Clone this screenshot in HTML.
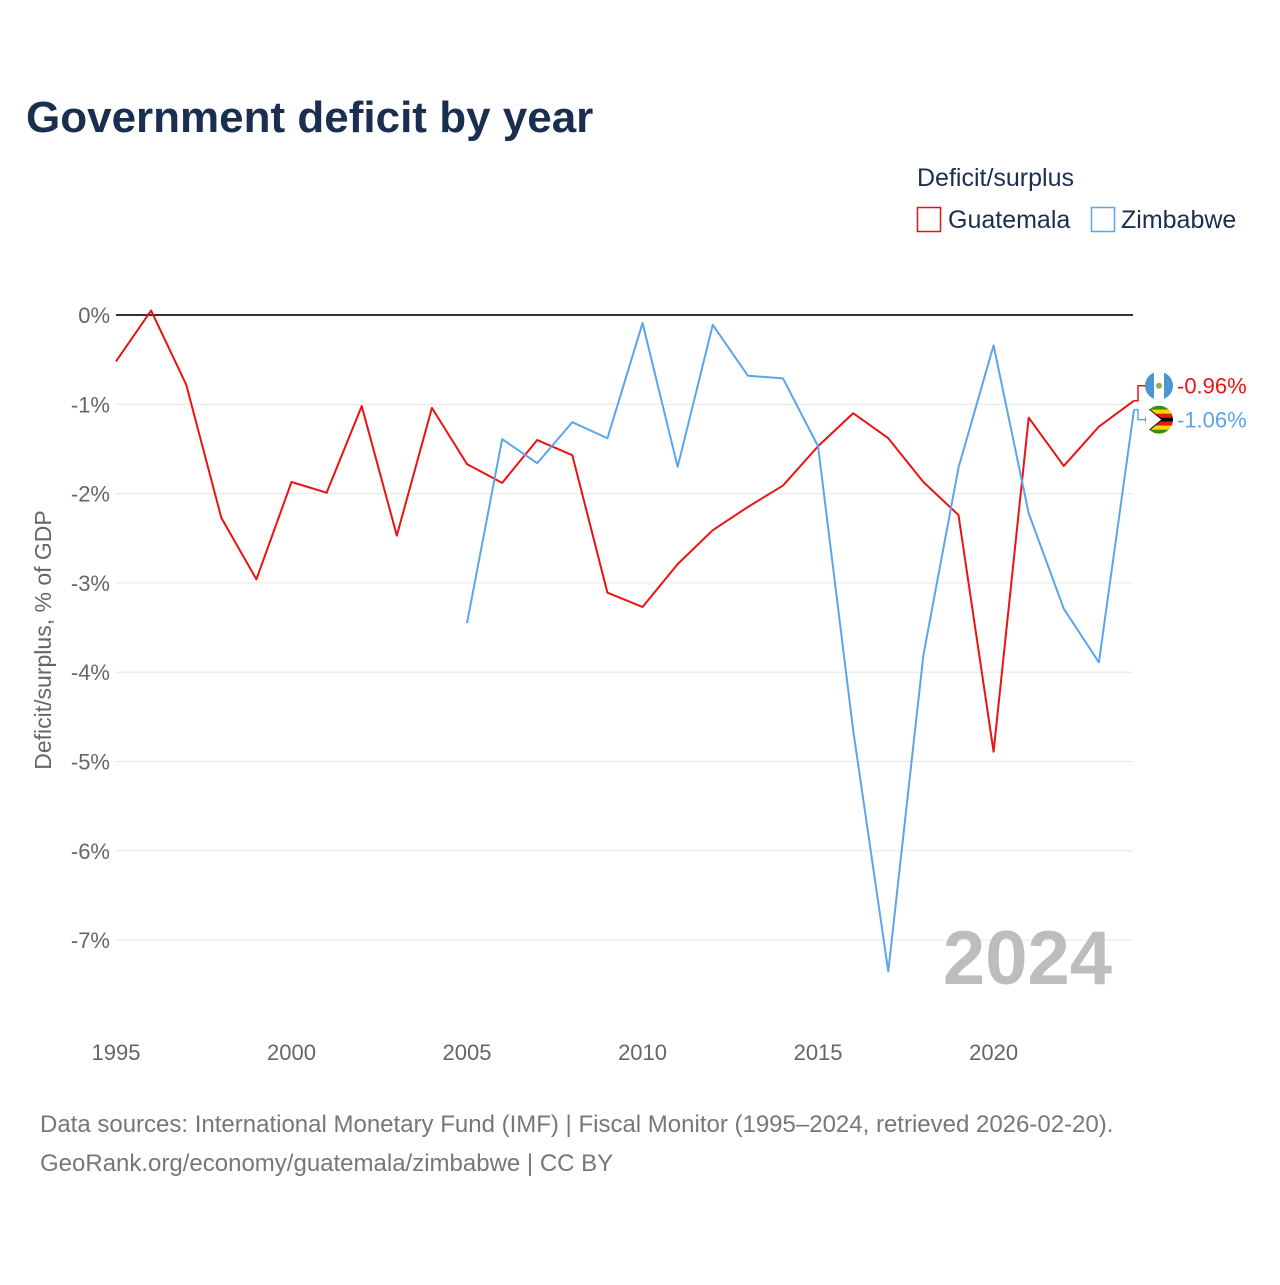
<!DOCTYPE html>
<html><head><meta charset="utf-8">
<style>
html,body{margin:0;padding:0;background:#fff;}
body{width:1280px;height:1280px;overflow:hidden;font-family:"Liberation Sans",sans-serif;}
</style></head>
<body>
<svg width="1280" height="1280" xmlns="http://www.w3.org/2000/svg" id="chart">
<text x="26" y="132" font-size="44" font-weight="bold" fill="#1a2e4f">Government deficit by year</text>
<text x="917" y="186" font-size="25" fill="#1a2e4f">Deficit/surplus</text>
<g>
<rect x="917.5" y="207.5" width="23" height="24" fill="#fff" stroke="#ee1111" stroke-width="1.5"/>
<text x="948" y="228" font-size="25" fill="#1a2e4f">Guatemala</text></g>
<g>
<rect x="1091.5" y="207.5" width="23" height="24" fill="#fff" stroke="#5aa5ec" stroke-width="1.5"/>
<text x="1121" y="228" font-size="25" fill="#1a2e4f">Zimbabwe</text></g>
<g id="grid"></g>
<g id="xticks"></g>
<text transform="translate(51,640) rotate(-90)" text-anchor="middle" font-size="23" fill="#666">Deficit/surplus, % of GDP</text>
<text x="1112" y="984" text-anchor="end" font-size="76" font-weight="bold" fill="#bdbdbd">2024</text>
<g id="series"></g>
<text x="40" y="1132" font-size="24" fill="#777">Data sources: International Monetary Fund (IMF) | Fiscal Monitor (1995–2024, retrieved 2026-02-20).</text>
<text x="40" y="1171" font-size="24" fill="#777">GeoRank.org/economy/guatemala/zimbabwe | CC BY</text>
</svg>
<script>
const guatYears = [1995,1996,1997,1998,1999,2000,2001,2002,2003,2004,2005,2006,2007,2008,2009,2010,2011,2012,2013,2014,2015,2016,2017,2018,2019,2020,2021,2022,2023,2024];
const guatValues = [-0.52,0.05,-0.78,-2.27,-2.96,-1.87,-1.99,-1.02,-2.47,-1.04,-1.67,-1.88,-1.40,-1.57,-3.11,-3.27,-2.79,-2.41,-2.15,-1.91,-1.47,-1.10,-1.38,-1.87,-2.24,-4.89,-1.15,-1.69,-1.25,-0.96];
const zimYears = [2005,2006,2007,2008,2009,2010,2011,2012,2013,2014,2015,2016,2017,2018,2019,2020,2021,2022,2023,2024];
const zimValues = [-3.45,-1.39,-1.66,-1.20,-1.38,-0.09,-1.70,-0.11,-0.68,-0.71,-1.47,-4.65,-7.35,-3.81,-1.71,-0.34,-2.22,-3.29,-3.89,-1.06];
const yTicks = [0,-1,-2,-3,-4,-5,-6,-7];
const xTicks = [1995,2000,2005,2010,2015,2020];

const NS="http://www.w3.org/2000/svg";
function x(yr){return 116+(yr-1995)*(1134-116)/29;}
function y(v){return 315-v*89.3;}
function mk(tag,attrs,parent){const e=document.createElementNS(NS,tag);for(const k in attrs)e.setAttribute(k,attrs[k]);parent.appendChild(e);return e;}
const grid=document.getElementById('grid');
yTicks.forEach(t=>{
  const l=mk('line',{x1:116,x2:1133,y1:y(t),y2:y(t),stroke:t===0?'#333':'#e6e6e6','stroke-width':t===0?2:1},grid);
  
  
  const tx=mk('text',{x:110,y:y(t)+8,'text-anchor':'end','font-size':22,fill:'#666'},grid);
  tx.textContent=t+'%';
  
  
});
const xt=document.getElementById('xticks');
xTicks.forEach(t=>{
  const tx=mk('text',{x:x(t),y:1060,'text-anchor':'middle','font-size':22,fill:'#666'},xt);
  tx.textContent=t;
  
  
});
const s=document.getElementById('series');
function line(years,vals,color,name){
  const p=mk('polyline',{points:years.map((yr,i)=>x(yr)+','+y(vals[i])).join(' '),fill:'none',stroke:color,'stroke-width':2,'stroke-linejoin':'round'},s);
  
  
}
line(guatYears,guatValues,'#ee1111','guatemala-line');
line(zimYears,zimValues,'#5aa5ec','zimbabwe-line');
// end labels (separated to avoid overlap)
const gv=guatValues[guatValues.length-1], zv=zimValues[zimValues.length-1];
const gy=y(gv)-15, zy=y(zv)+10;
mk('path',{d:`M${x(2024)},${y(gv)} L1138,${y(gv)} L1138,${gy} L1145,${gy}`,stroke:'#ee1111',fill:'none','stroke-width':1.5},s);
mk('path',{d:`M${x(2024)},${y(zv)} L1138,${y(zv)} L1138,${zy} L1145,${zy}`,stroke:'#5aa5ec',fill:'none','stroke-width':1.5},s);
const gf=mk('g',{},s);


const gcp=mk('clipPath',{id:'gc'},gf);mk('circle',{cx:1159,cy:gy,r:14},gcp);
const gg=mk('g',{'clip-path':'url(#gc)'},gf);
mk('rect',{x:1145,y:gy-14,width:28,height:28,fill:'#4997d0'},gg);
mk('rect',{x:1154,y:gy-14,width:10,height:28,fill:'#fff'},gg);
mk('circle',{cx:1159,cy:gy,r:3,fill:'#8ab060'},gg);
const zf=mk('g',{},s);


const cp=mk('clipPath',{id:'zc'},zf);mk('circle',{cx:1159,cy:zy,r:14},cp);
const zg=mk('g',{'clip-path':'url(#zc)'},zf);
['#319208','#ffd200','#de2010','#000','#de2010','#ffd200','#319208'].forEach((c,i)=>mk('rect',{x:1145,y:zy-14+i*4,width:28,height:4.1,fill:c},zg));
mk('path',{d:`M1145,${zy-14} L1162,${zy} L1145,${zy+14}Z`,fill:'#fff',stroke:'#000','stroke-width':1},zg);
const gl=mk('text',{x:1177,y:gy+8,'font-size':22,fill:'#ee1111'},s);
gl.textContent=gv.toFixed(2)+'%';


const zl=mk('text',{x:1177,y:zy+8,'font-size':22,fill:'#5aa5ec'},s);
zl.textContent=zv.toFixed(2)+'%';


</script>
</body></html>
